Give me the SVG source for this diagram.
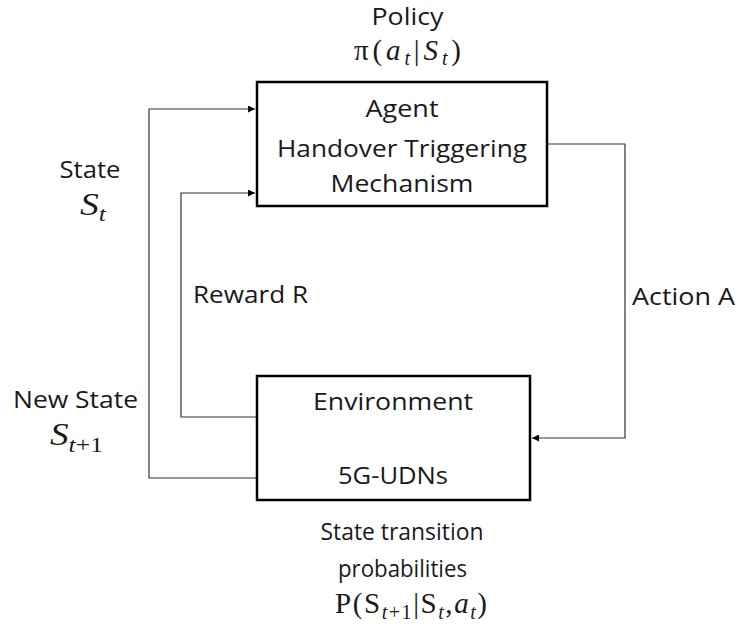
<svg xmlns="http://www.w3.org/2000/svg" width="739" height="630" viewBox="0 0 739 630">
<style>
  .box { fill: #ffffff; stroke: #000000; stroke-width: 2.5; }
  .conn { fill: none; stroke: #333333; stroke-width: 1.2; }
  .lbl { font-family: "Open Sans", "Liberation Sans", sans-serif; font-size: 24.5px; fill: #1a1a1a; }
  .math { font-family: "Liberation Serif", "DejaVu Serif", serif; font-size: 29px; fill: #1a1a1a; }
  .it { font-style: italic; }
  .sub { font-style: italic; font-size: 20px; }
  .subr { font-size: 20px; }
  .big { font-size: 32px; }
  .bsub { font-style: italic; font-size: 22px; }
  .bsubr { font-size: 22px; }
</style>
<defs>
  <marker id="arrow" viewBox="0 0 10 10" refX="10" refY="5" markerWidth="9" markerHeight="7" markerUnits="userSpaceOnUse" orient="auto">
    <path d="M0,0 L10,5 L0,10 Z" fill="#000000"/>
  </marker>
</defs>
<rect width="739" height="630" fill="#ffffff"/>

<g id="connectors">
  <path id="state" class="conn" d="M257,478 H149 V109 H255" marker-end="url(#arrow)"/>
  <path id="reward" class="conn" d="M257,417 H181 V193 H255" marker-end="url(#arrow)"/>
  <path id="action" class="conn" d="M547,144 H625 V438 H532" marker-end="url(#arrow)"/>
</g>

<g id="agent">
  <rect class="box" x="257" y="82" width="290" height="124"/>
  <text class="lbl" x="402" y="117" text-anchor="middle" textLength="73" lengthAdjust="spacingAndGlyphs">Agent</text>
  <text class="lbl" x="402" y="157" text-anchor="middle" textLength="250" lengthAdjust="spacingAndGlyphs">Handover Triggering</text>
  <text class="lbl" x="402" y="192" text-anchor="middle" textLength="143" lengthAdjust="spacingAndGlyphs">Mechanism</text>
</g>

<g id="environment">
  <rect class="box" x="257" y="376" width="273" height="124"/>
  <text class="lbl" x="393" y="410" text-anchor="middle" textLength="160" lengthAdjust="spacingAndGlyphs">Environment</text>
  <text class="lbl" x="393" y="484" text-anchor="middle" textLength="110" lengthAdjust="spacingAndGlyphs">5G-UDNs</text>
</g>

<g id="policy">
  <text class="lbl" x="407.5" y="25" text-anchor="middle" textLength="72" lengthAdjust="spacingAndGlyphs">Policy</text>
  <text class="math" x="354" y="60" textLength="107" lengthAdjust="spacing">π(<tspan class="it">a</tspan><tspan class="sub" dy="5">t</tspan><tspan dy="-5">|</tspan><tspan class="it">S</tspan><tspan class="sub" dy="5">t</tspan><tspan dy="-5">)</tspan></text>
</g>

<g id="state-label">
  <text class="lbl" x="90" y="178" text-anchor="middle" textLength="61" lengthAdjust="spacingAndGlyphs">State</text>
  <text class="math big" x="80" y="215" textLength="26" lengthAdjust="spacingAndGlyphs"><tspan class="it">S</tspan><tspan class="bsub" dy="6">t</tspan></text>
</g>

<g id="reward-label">
  <text class="lbl" x="193" y="303" textLength="115" lengthAdjust="spacingAndGlyphs">Reward R</text>
</g>

<g id="action-label">
  <text class="lbl" x="632" y="305" textLength="103" lengthAdjust="spacingAndGlyphs">Action A</text>
</g>

<g id="newstate-label">
  <text class="lbl" x="13" y="408" textLength="125" lengthAdjust="spacingAndGlyphs">New State</text>
  <text class="math big" x="50" y="445" textLength="53" lengthAdjust="spacingAndGlyphs"><tspan class="it">S</tspan><tspan class="bsub" dy="7">t</tspan><tspan class="bsubr">+1</tspan></text>
</g>

<g id="transition-label">
  <text class="lbl" x="402" y="540" text-anchor="middle" textLength="163" lengthAdjust="spacingAndGlyphs">State transition</text>
  <text class="lbl" x="402.5" y="577" text-anchor="middle" textLength="129" lengthAdjust="spacingAndGlyphs">probabilities</text>
  <text class="math" x="335" y="613" textLength="152" lengthAdjust="spacing">P(S<tspan class="sub" dy="6">t</tspan><tspan class="subr">+1</tspan><tspan dy="-6">|S</tspan><tspan class="sub" dy="6">t</tspan><tspan dy="-6">,</tspan><tspan class="it">a</tspan><tspan class="sub" dy="6">t</tspan><tspan dy="-6">)</tspan></text>
</g>
</svg>
